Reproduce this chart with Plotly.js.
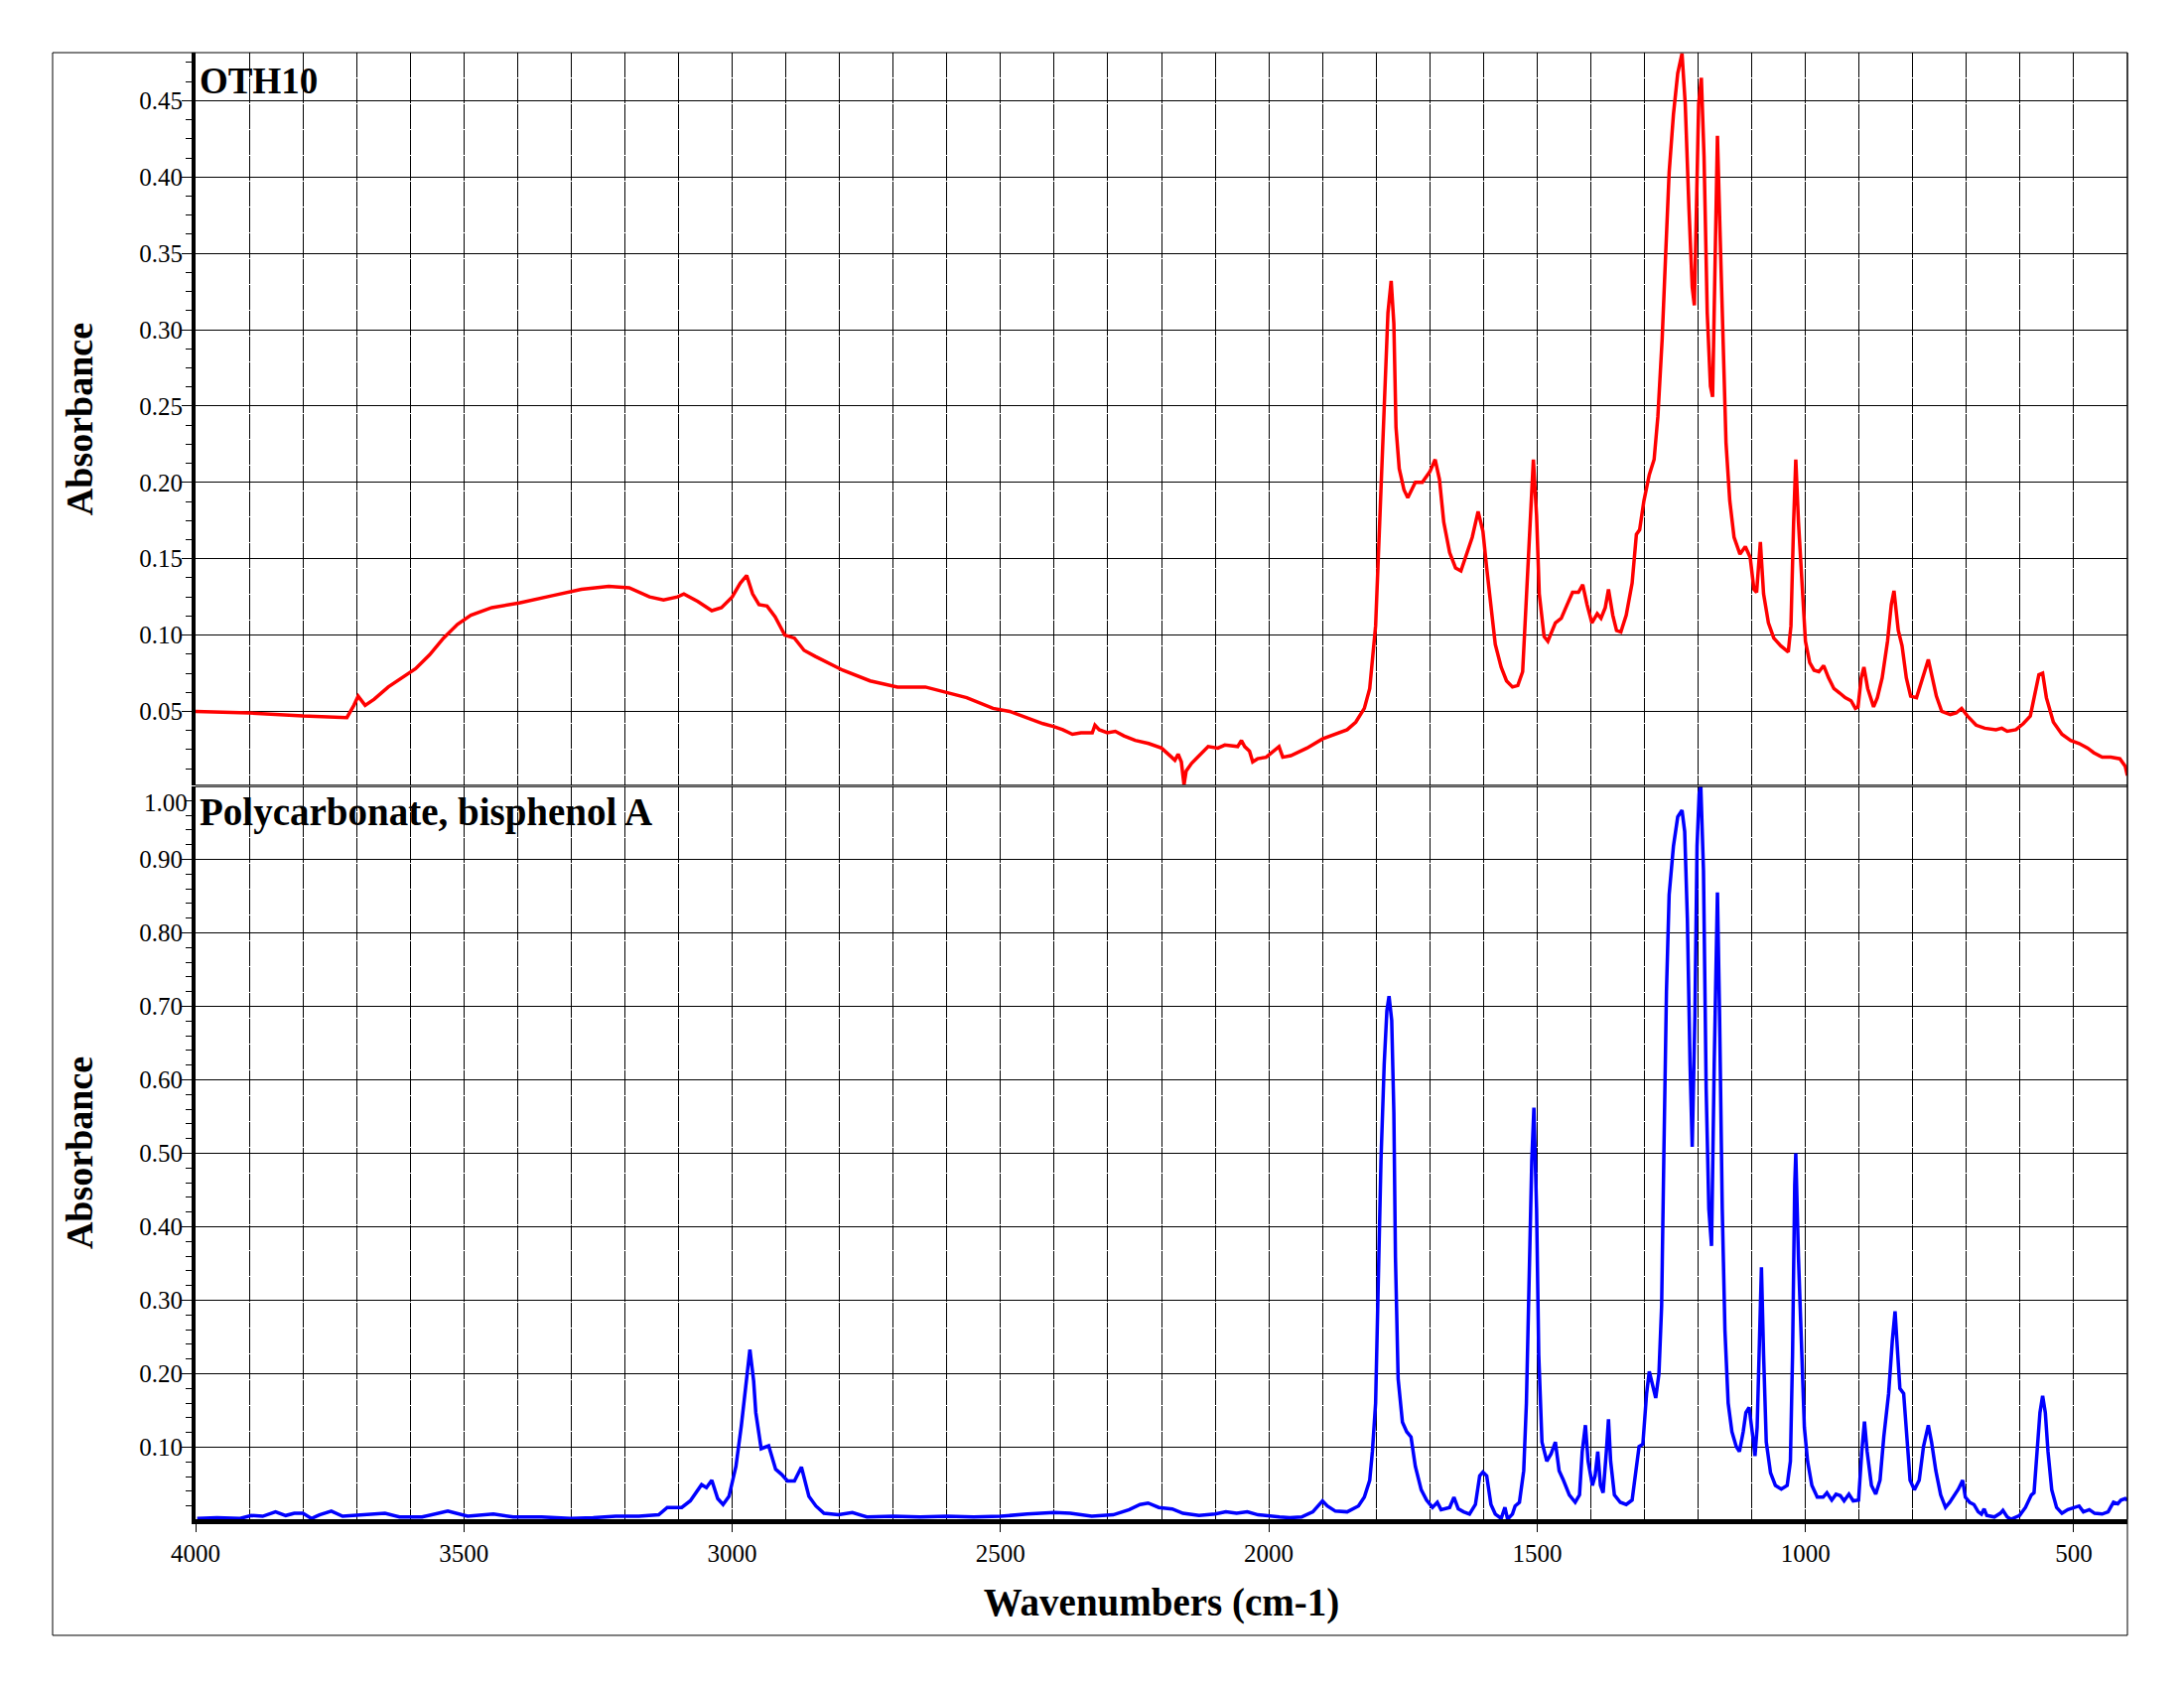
<!DOCTYPE html>
<html>
<head>
<meta charset="utf-8">
<script src="https://cdn.plot.ly/plotly-3.0.1.min.js"></script>
<style>html,body{margin:0;padding:0;background:#fff;}</style>
</head>
<body>
<div id="chart" style="width:2200px;height:1700px;"></div>
<script>
// OTH10 spectrum (wavenumber, absorbance)
const oth10_wn = [4000,3900,3800,3718,3705,3697,3684,3667,3641,3615,3590,3564,3538,3512,3487,3448,3397,3333,3281,3230,3192,3154,3128,3102,3090,3064,3038,3020,3000,2985,2973,2962,2950,2935,2920,2902,2884,2866,2845,2794,2743,2692,2640,2563,
2514,2483,2452,2421,2400,2384,2366,2350,2335,2329,2324,2316,2301,2286,2270,2249,2224,2200,2181,2175,2169,2163,2158,2154,2144,2128,2113,2095,2082,2058,2051,2045,2036,2030,2021,2005,1990,1981,1974,1959,
1929,1900,1854,1838,1822,1812,1801,1793,1785,1778,1772,1767,1763,1757,1748,1741,1727,1714,1700,1690,1682,1674,1663,1652,1642,1631,1621,1610,1601,1594,1586,1578,1567,1557,1546,1536,1527,1520,1512,1507,1501,1496,1487,1480,1466,1455,1444,1434,1423,1415,1407,1398,1388,1381,1373,1367,1359,1352,1344,1334,1323,1315,1309,1301,1291,1282,1275,1267,1261,1254,1246,1238,1230,1224,1217,1211,1207,1203,1199,1194,1189,1183,1177,1173,1169,1164,1159,1153,1148,1141,1133,1122,1112,1103,1096,1091,1084,1078,1069,1059,1046,1032,1027,1022,1018,1013,1008,1000,992,984,975,966,957,947,936,926,915,907,902,896,891,884,873,866,857,847,840,835,827,820,812,804,793,785,778,771,764,756,746,730,719,709,698,682,666,645,634,624,608,594,581,572,565,558,551,538,522,506,490,474,463,447,431,414,404,400];
const oth10_abs = [0.050,0.049,0.047,0.046,0.054,0.060,0.054,0.058,0.066,0.072,0.078,0.087,0.098,0.107,0.113,0.118,0.121,0.126,0.130,0.132,0.131,0.125,0.123,0.125,0.127,0.122,0.116,0.118,0.125,0.134,0.139,0.127,0.120,0.119,0.112,0.100,0.098,0.090,0.086,0.077,0.070,0.066,0.066,0.059,
0.052,0.050,0.046,0.042,0.040,0.038,0.035,0.036,0.036,0.036,0.041,0.038,0.036,0.037,0.034,0.031,0.029,0.026,0.020,0.018,0.022,0.017,0.002,0.011,0.016,0.022,0.027,0.026,0.028,0.027,0.031,0.027,0.024,0.017,0.019,0.020,0.024,0.027,0.020,0.021,
0.026,0.032,0.038,0.043,0.052,0.065,0.106,0.174,0.249,0.311,0.332,0.304,0.236,0.209,0.195,0.190,0.200,0.200,0.207,0.215,0.202,0.174,0.154,0.144,0.142,0.154,0.164,0.181,0.168,0.144,0.117,0.094,0.079,0.070,0.066,0.067,0.076,0.123,0.174,0.215,0.178,0.127,0.099,0.096,0.108,0.111,0.120,0.128,0.128,0.133,0.120,0.108,0.114,0.111,0.118,0.130,0.113,0.103,0.102,0.113,0.134,0.166,0.169,0.188,0.205,0.215,0.243,0.294,0.345,0.403,0.441,0.468,0.481,0.448,0.379,0.328,0.316,0.379,0.448,0.465,0.414,0.311,0.263,0.256,0.328,0.427,0.362,0.277,0.226,0.188,0.164,0.153,0.158,0.151,0.130,0.128,0.161,0.127,0.108,0.098,0.093,0.089,0.106,0.174,0.215,0.174,0.140,0.096,0.082,0.077,0.076,0.080,0.072,0.065,0.062,0.059,0.057,0.052,0.053,0.072,0.079,0.065,0.053,0.059,0.072,0.096,0.120,0.129,0.103,0.093,0.072,0.060,0.059,0.069,0.076,0.084,0.072,0.060,0.050,0.048,0.049,0.052,0.047,0.041,0.039,0.038,0.039,0.037,0.038,0.042,0.047,0.062,0.074,0.075,0.059,0.043,0.035,0.031,0.029,0.026,0.023,0.020,0.020,0.019,0.014,0.008];

// Polycarbonate, bisphenol A spectrum
const pc_wn = [3997,3960,3917,3896,3875,3851,3832,3816,3800,3784,3769,3747,3726,3684,3647,3620,3578,3530,3493,3445,3408,3355,3301,3259,3217,3174,3137,3121,3094,3078,3057,3048,3038,3027,3017,3006,2993,2983,2974,2967,2960,2956,2946,2932,2919,2908,2897,2884,2871,2857,2844,2829,2802,2776,2749,
2700,2650,2600,2550,2500,2450,2400,2370,2330,2290,2260,2240,2225,2205,2180,2160,2130,2100,2080,2060,2040,2020,2000,1980,
1961,1939,1918,1907,1900,1891,1876,1854,1833,1822,1812,1807,1801,1796,1791,1785,1780,1776,1771,1767,1764,1759,1751,1743,1735,1727,1716,1706,1695,1686,1679,1663,1655,1647,1637,1626,1615,1607,1601,1594,1586,1578,1567,1560,1555,1546,1541,1533,1525,1520,1514,1510,1506,1501,1497,1491,1482,1474,1466,1459,1451,1440,1429,1421,1416,1410,1405,1397,1392,1387,1382,1377,1371,1367,1363,1356,1345,1334,1323,1315,1310,1303,1296,1291,1285,1279,1273,1268,1264,1259,1254,1246,1238,1230,1225,1220,1215,1211,1206,1202,1198,1195,1190,1185,1180,1175,1170,1164,1160,1155,1150,1144,1137,1129,1123,1116,1111,1105,1098,1094,1090,1085,1082,1078,1073,1065,1056,1045,1034,1028,1024,1020,1018,1013,1008,1002,996,988,978,967,960,951,943,935,928,919,911,901,895,890,885,877,869,861,854,845,838,833,828,824,817,811,805,797,788,780,771,765,757,748,739,731,722,715,707,702,694,686,678,672,667,662,648,637,632,624,617,601,590,579,574,569,563,558,553,548,541,532,522,511,497,490,482,471,461,447,436,426,418,412,404,400];
const pc_abs = [0.003,0.004,0.003,0.007,0.006,0.012,0.007,0.010,0.010,0.003,0.008,0.013,0.006,0.008,0.010,0.005,0.005,0.013,0.006,0.009,0.005,0.005,0.003,0.004,0.006,0.006,0.008,0.018,0.018,0.027,0.049,0.045,0.055,0.030,0.022,0.033,0.074,0.129,0.190,0.233,0.190,0.147,0.098,0.102,0.070,0.063,0.054,0.054,0.073,0.033,0.020,0.010,0.008,0.011,0.005,
0.006,0.005,0.006,0.005,0.006,0.009,0.011,0.010,0.006,0.008,0.015,0.022,0.024,0.018,0.016,0.010,0.007,0.009,0.012,0.010,0.012,0.008,0.006,0.005,
0.004,0.005,0.012,0.022,0.027,0.020,0.013,0.012,0.020,0.032,0.055,0.094,0.160,0.325,0.490,0.621,0.694,0.714,0.681,0.556,0.358,0.193,0.134,0.121,0.114,0.074,0.042,0.028,0.018,0.025,0.015,0.018,0.032,0.016,0.012,0.009,0.022,0.061,0.066,0.061,0.022,0.009,0.003,0.018,0.002,0.009,0.020,0.025,0.068,0.160,0.358,0.490,0.562,0.424,0.226,0.107,0.081,0.091,0.107,0.068,0.055,0.035,0.025,0.035,0.094,0.130,0.081,0.048,0.061,0.094,0.048,0.038,0.094,0.138,0.081,0.035,0.025,0.022,0.028,0.068,0.101,0.104,0.173,0.203,0.187,0.167,0.200,0.292,0.490,0.720,0.852,0.918,0.958,0.967,0.938,0.819,0.621,0.509,0.687,0.918,0.990,1.000,0.885,0.588,0.424,0.374,0.621,0.855,0.687,0.424,0.259,0.160,0.121,0.101,0.094,0.121,0.147,0.154,0.114,0.088,0.127,0.292,0.345,0.226,0.107,0.065,0.048,0.043,0.048,0.081,0.226,0.457,0.500,0.358,0.259,0.127,0.081,0.048,0.032,0.032,0.038,0.028,0.036,0.034,0.027,0.036,0.027,0.028,0.094,0.135,0.094,0.048,0.036,0.055,0.114,0.173,0.246,0.285,0.226,0.180,0.173,0.107,0.055,0.042,0.055,0.101,0.130,0.107,0.068,0.035,0.018,0.025,0.035,0.043,0.055,0.032,0.025,0.022,0.012,0.009,0.016,0.007,0.005,0.010,0.014,0.005,0.002,0.007,0.018,0.035,0.038,0.094,0.147,0.170,0.147,0.094,0.042,0.018,0.010,0.015,0.018,0.020,0.012,0.015,0.010,0.009,0.012,0.025,0.023,0.028,0.030,0.028];

const xTickVals = [4000,3500,3000,2500,2000,1500,1000,500];
const yTopTicks = [0.05,0.10,0.15,0.20,0.25,0.30,0.35,0.40,0.45];
const yBotTicks = [0.10,0.20,0.30,0.40,0.50,0.60,0.70,0.80,0.90];

const serif = 'Liberation Serif';
const tickFont = {family: serif, size: 25, color: '#000'};
const titleFont = {family: serif, size: 38, color: '#000'};
const xTitleFont = {family: serif, size: 39, color: '#000'};
const gridDash = '25px,1px';

const traces = [
  {x: oth10_wn, y: oth10_abs, xaxis: 'x2', yaxis: 'y2', type: 'scatter', mode: 'lines',
   line: {color: '#FF0000', width: 3.5}, name: 'OTH10', hoverinfo: 'x+y'},
  {x: pc_wn, y: pc_abs, xaxis: 'x', yaxis: 'y', type: 'scatter', mode: 'lines',
   line: {color: '#0000FF', width: 3.5}, name: 'Polycarbonate, bisphenol A', hoverinfo: 'x+y'}
];

const xCommon = {
  range: [4000, 400], tickvals: xTickVals, showgrid: true, gridcolor: '#000', gridwidth: 1, griddash: gridDash,
  minor: {dtick: 100, tick0: 0, showgrid: true, gridcolor: '#000', gridwidth: 1, griddash: gridDash, ticks: ''},
  zeroline: false, tickfont: tickFont
};

const layout = {
  width: 2200, height: 1700,
  margin: {l: 197, r: 57, t: 53, b: 170, pad: 0},
  paper_bgcolor: '#fff', plot_bgcolor: '#fff',
  showlegend: false,
  xaxis: Object.assign({}, xCommon, {
    domain: [0, 1], anchor: 'y',
    ticks: 'outside', ticklen: 8, tickwidth: 1, tickcolor: '#000',
    showline: true, linewidth: 5, linecolor: '#000',
    title: {text: '<b>Wavenumbers (cm-1)</b>', font: xTitleFont, standoff: 24}
  }),
  xaxis2: Object.assign({}, xCommon, {
    domain: [0, 1], anchor: 'y2', matches: 'x', showticklabels: false, ticks: '', showline: false
  }),
  yaxis: {
    domain: [0, 0.4997], anchor: 'x', range: [0.002, 0.9995],
    tickvals: yBotTicks, tickformat: '.2f', tickfont: tickFont, ticklabelstandoff: -6,
    ticks: 'outside', ticklen: 10, tickwidth: 1, tickcolor: '#000',
    minor: {dtick: 0.02, tick0: 0, ticks: 'outside', ticklen: 6, tickwidth: 1, tickcolor: '#000', showgrid: false},
    showgrid: true, gridcolor: '#000', gridwidth: 1, zeroline: false,
    showline: true, linewidth: 4, linecolor: '#000',
    title: {text: '<b>Absorbance</b>', font: titleFont, standoff: 36}
  },
  yaxis2: {
    domain: [0.5003, 1], anchor: 'x2', range: [0.0015, 0.4815],
    tickvals: yTopTicks, tickformat: '.2f', tickfont: tickFont, ticklabelstandoff: -6,
    ticks: 'outside', ticklen: 10, tickwidth: 1, tickcolor: '#000',
    minor: {dtick: 0.0125, tick0: 0, ticks: 'outside', ticklen: 6, tickwidth: 1, tickcolor: '#000', showgrid: false},
    showgrid: true, gridcolor: '#000', gridwidth: 1, zeroline: false,
    showline: true, linewidth: 4, linecolor: '#000',
    title: {text: '<b>Absorbance</b>', font: titleFont, standoff: 36}
  },
  annotations: [
    {text: '<b>OTH10</b>', xref: 'paper', yref: 'paper', x: 0, y: 0.981, xanchor: 'left', yanchor: 'middle',
     xshift: 2, showarrow: false, font: {family: serif, size: 37, color: '#000'}},
    {text: '<b>Polycarbonate, bisphenol A</b>', xref: 'paper', yref: 'paper', x: 0, y: 0.482, xanchor: 'left', yanchor: 'middle',
     xshift: 2, showarrow: false, font: {family: serif, size: 39, color: '#000'}},
    {text: '1.00', xref: 'paper', yref: 'y', x: 0, y: 0.977, xanchor: 'right', yanchor: 'middle',
     xshift: -6, showarrow: false, font: tickFont}
  ],
  shapes: [
    {type: 'rect', xref: 'paper', yref: 'paper', x0: -0.0740, x1: 1, y0: -0.0792, y1: 1,
     line: {color: '#000', width: 1}, fillcolor: 'rgba(0,0,0,0)', layer: 'above'},
    {type: 'line', xref: 'paper', yref: 'paper', x0: 0, x1: 1, y0: 0.5005, y1: 0.5005, line: {color: '#000', width: 1}},
    {type: 'line', xref: 'paper', yref: 'paper', x0: 0, x1: 1, y0: 0.4995, y1: 0.4995, line: {color: '#000', width: 1}},
    {type: 'line', xref: 'paper', yref: 'paper', x0: 1, x1: 1, y0: 0, y1: 1, line: {color: '#000', width: 1}}
  ]
};

Plotly.newPlot('chart', traces, layout, {displayModeBar: false, staticPlot: true});
</script>
</body>
</html>
